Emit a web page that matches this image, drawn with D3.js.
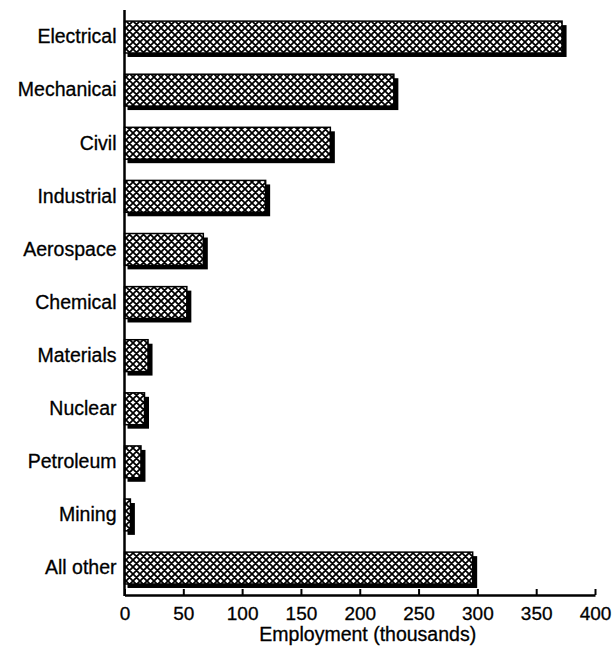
<!DOCTYPE html>
<html><head><meta charset="utf-8">
<script src="https://cdn.jsdelivr.net/npm/d3@7"></script>
<style>body{margin:0;background:#fff}text{font-family:"Liberation Sans",Arial,sans-serif}</style>
</head><body>
<svg id="c" width="614" height="648"></svg>
<script>
const categories = ["Electrical","Mechanicai","Civil","Industrial","Aerospace","Chemical","Materials","Nuclear","Petroleum","Mining","All other"];
const values = [372, 229, 175, 120, 67, 53, 20, 17, 14, 5, 296];
const tickValues = [0,50,100,150,200,250,300,350,400];
const xTitle = "Employment (thousands)";

const svg = d3.select("#c");
const x = d3.scaleLinear().domain([0,400]).range([124.5,595]);
const y = d3.scaleBand().domain(categories).range([10.5,594.6]).paddingInner(0.4).paddingOuter(0.2);

const defs = svg.append("defs");
const P = 7;
const p = defs.append("pattern").attr("id","hatch").attr("patternUnits","userSpaceOnUse")
  .attr("width",P).attr("height",P);
p.append("rect").attr("width",P).attr("height",P).attr("fill","#fff");
p.append("path").attr("d",`M0,0L${P},${P}M0,${P}L${P},0M-1,1L1,-1M${P-1},${P+1}L${P+1},${P-1}M-1,${P-1}L1,${P+1}M${P-1},-1L${P+1},1`)
  .attr("stroke","#000").attr("stroke-width",1.8);

const g = svg.append("g");
g.selectAll("rect.sh").data(categories).join("rect").attr("class","sh")
  .attr("x", x(0)+3).attr("y", d=>y(d)+4)
  .attr("width", (d,i)=>Math.max(0,x(values[i])-x(0)+1.5))
  .attr("height", y.bandwidth()).attr("fill","#000");
g.selectAll("rect.b").data(categories).join("rect").attr("class","b")
  .attr("x", x(0)).attr("y", d=>y(d))
  .attr("width", (d,i)=>x(values[i])-x(0))
  .attr("height", y.bandwidth()).attr("fill","url(#hatch)")
  .attr("stroke","#000").attr("stroke-width",1.5);

const ya = svg.append("g").attr("transform",`translate(${x(0)},0)`)
  .call(d3.axisLeft(y).tickSize(0).tickPadding(8));
ya.select(".domain").attr("stroke","#000").attr("stroke-width",2.5).attr("d","M0,10V596");
ya.selectAll("text").attr("font-size",19.5).attr("fill","#000").attr("stroke","#000").attr("stroke-width",0.3);

const xa = svg.append("g").attr("transform","translate(0,595)")
  .call(d3.axisBottom(x).tickValues(tickValues).tickSize(0).tickPadding(12));
xa.select(".domain").attr("stroke","#000").attr("stroke-width",2.5);
xa.selectAll(".tick line").attr("y2",-6).attr("stroke","#000").attr("stroke-width",2);
xa.selectAll("text").attr("font-size",19).attr("fill","#000").attr("stroke","#000").attr("stroke-width",0.3);

svg.append("text").attr("x",(x(0)+x(400))/2 + 8).attr("y",641).attr("text-anchor","middle")
  .attr("font-size",19.5).attr("fill","#000").attr("stroke","#000").attr("stroke-width",0.3).text(xTitle);
</script>
</body></html>
